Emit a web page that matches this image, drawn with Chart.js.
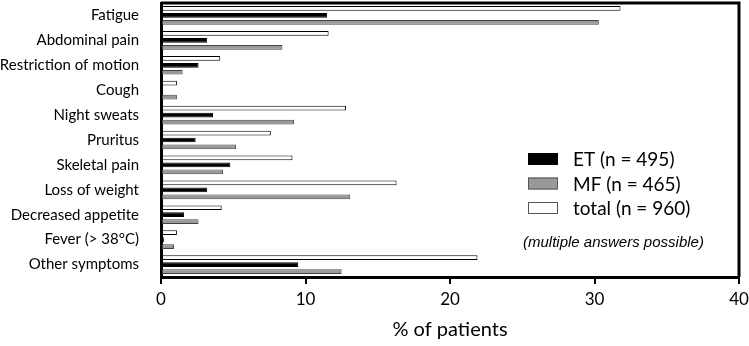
<!DOCTYPE html>
<html>
<head>
<meta charset="utf-8">
<script src="https://cdn.jsdelivr.net/npm/chart.js@4/dist/chart.umd.min.js"></script>
<style>
  html, body { margin: 0; padding: 0; background: #fff; }
  #wrap { position: relative; width: 749px; height: 346px; }
</style>
</head>
<body>
<div id="wrap"><canvas id="symptomChart"></canvas></div>
<script>
const categories = ['Fatigue', 'Abdominal pain', 'Restriction of motion', 'Cough', 'Night sweats', 'Pruritus',
    'Skeletal pain', 'Loss of weight', 'Decreased appetite', 'Fever (> 38°C)', 'Other symptoms'];
const totalValues = [31.8, 11.6, 4.1, 1.1, 12.8, 7.6, 9.1, 16.3, 4.2, 1.1, 21.9];
const etValues = [11.5, 3.2, 2.6, 0, 3.6, 2.4, 4.8, 3.2, 1.6, 0.2, 9.5];
const mfValues = [30.3, 8.4, 1.5, 1.1, 9.2, 5.2, 4.3, 13.1, 2.6, 0.9, 12.5];
const xTicks = [0, 10, 20, 30, 40];
const legendNote = '(multiple answers possible)';

const FONT = 'Lato, "Open Sans", sans-serif';

// legend drawn inside the plot area, order ET, MF, total
const insideLegend = {
    id: 'insideLegend',
    afterDraw(chart) {
        const ctx = chart.ctx;
        const order = [1, 2, 0];
        ctx.save();
        ctx.font = '19px ' + FONT;
        ctx.textBaseline = 'middle';
        order.forEach((di, i) => {
            const ds = chart.data.datasets[di];
            const y = 159 + i * 24.5;
            ctx.fillStyle = ds.backgroundColor;
            ctx.fillRect(528, y - 6, 30, 12);
            ctx.strokeStyle = di === 1 ? '#000' : '#555';
            ctx.lineWidth = 1;
            ctx.strokeRect(528.5, y - 5.5, 29, 11);
            ctx.fillStyle = '#000';
            ctx.fillText(ds.label, 573, y + 1);
        });
        ctx.font = 'italic 15px "Liberation Sans", Arial, sans-serif';
        ctx.fillText(legendNote, 523, 243);
        // frame on top and right
        const a = chart.chartArea;
        ctx.strokeStyle = '#000';
        ctx.lineWidth = 3;
        ctx.beginPath();
        ctx.moveTo(a.left, a.top);
        ctx.lineTo(a.right, a.top);
        ctx.lineTo(a.right, a.bottom);
        ctx.stroke();
        ctx.restore();
    }
};

new Chart(document.getElementById('symptomChart').getContext('2d'), {
    type: 'bar',
    data: {
        labels: categories,
        datasets: [
            { label: 'total (n = 960)', data: totalValues, backgroundColor: '#ffffff', borderColor: '#000000', borderWidth: 1 },
            { label: 'ET (n = 495)', data: etValues, backgroundColor: '#000000', borderColor: '#000000', borderWidth: 1 },
            { label: 'MF (n = 465)', data: mfValues, backgroundColor: '#999999', borderColor: '#444444', borderWidth: 1 }
        ]
    },
    options: {
        indexAxis: 'y',
        responsive: true,
        maintainAspectRatio: false,
        animation: false,
        devicePixelRatio: 1,
        layout: { padding: 0 },
        datasets: { bar: { categoryPercentage: 0.84, barPercentage: 0.68, borderSkipped: false } },
        scales: {
            x: {
                min: 0, max: 40,
                afterBuildTicks: axis => { axis.ticks = xTicks.map(v => ({ value: v })); },
                afterFit: axis => { axis.height = 69; axis.paddingLeft = 0; axis.paddingRight = 10; },
                grid: { drawOnChartArea: false, drawTicks: true, tickLength: 7, color: '#000', lineWidth: 2 },
                border: { display: true, color: '#000', width: 3 },
                ticks: { color: '#000', font: { family: FONT, size: 17 }, padding: 5, maxRotation: 0 },
                title: { display: true, text: '% of patients', color: '#000', font: { family: FONT, size: 20 }, padding: { top: 4 } }
            },
            y: {
                afterFit: axis => { axis.width = 161; axis.paddingTop = 3; axis.paddingBottom = 0; },
                grid: { display: false },
                border: { display: true, color: '#000', width: 3 },
                ticks: { color: '#000', font: { family: FONT, size: 15 }, padding: 14, autoSkip: false }
            }
        },
        plugins: {
            legend: { display: false },
            tooltip: { enabled: false }
        }
    },
    plugins: [insideLegend]
});
</script>
</body>
</html>
